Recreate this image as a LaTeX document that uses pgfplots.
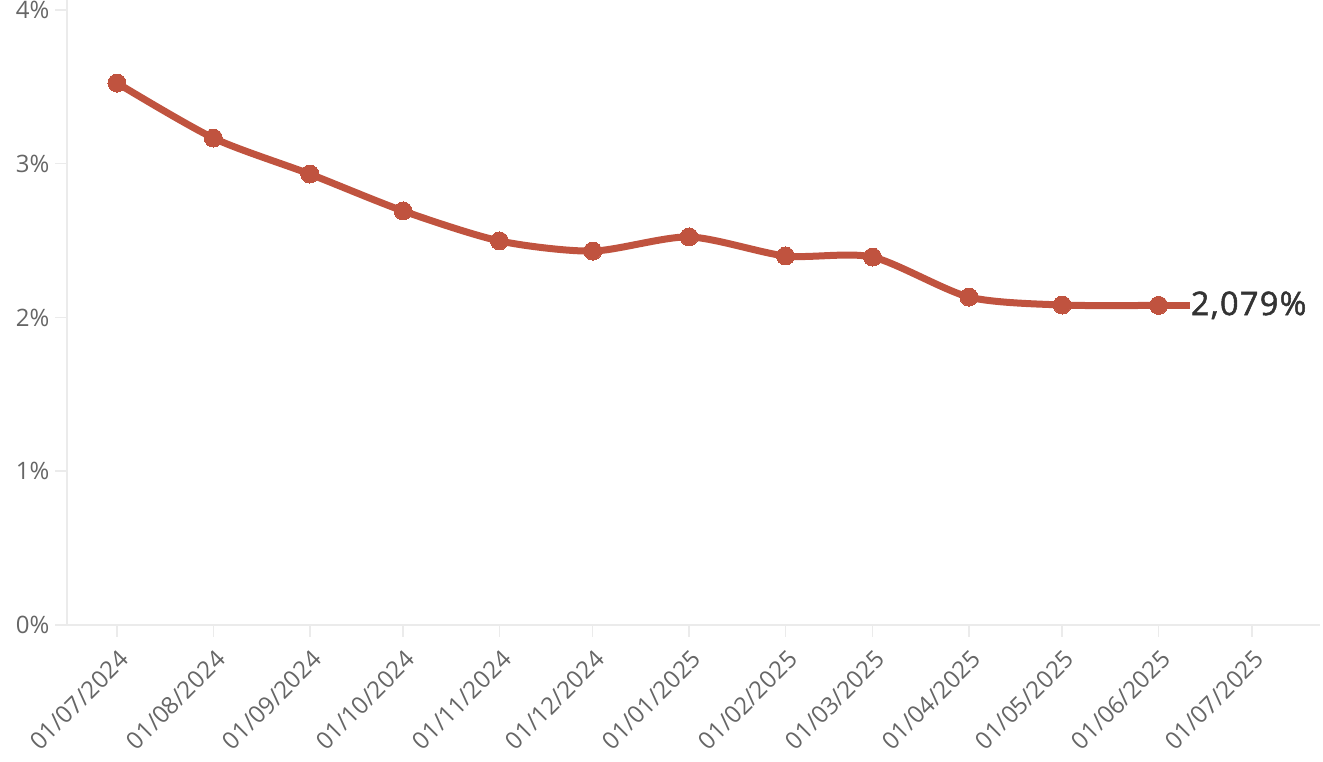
\documentclass[border=0pt]{standalone}
\usepackage{pgfplots}
\pgfplotsset{compat=1.18}
\usepackage{fontspec}
\setmainfont{Open Sans}
\newfontfamily\labfont[FakeBold=1.5, LetterSpace=4]{Open Sans}
\definecolor{linec}{HTML}{C0533F}
\definecolor{axc}{HTML}{EBEBEB}
\definecolor{tickc}{HTML}{666666}
\definecolor{labc}{HTML}{333333}
\begin{document}
\begin{tikzpicture}
\useasboundingbox (-67pt,-137pt) rectangle (1256pt,625pt);
\begin{axis}[
  at={(0pt,0pt)}, anchor=south west,
  scale only axis, width=1253pt, height=625pt,
  xmin=-16.08, xmax=386.9, ymin=0, ymax=4.065,
  axis x line*=bottom, axis y line*=left,
  axis line style={axc, line width=1.5pt, -},
  tick style={axc, line width=1.5pt},
  major tick length=12pt, tick align=outside,
  xtick={0,31,62,92,123,153,184,215,243,274,304,335,365},
  xticklabels={01/07/2024,01/08/2024,01/09/2024,01/10/2024,01/11/2024,01/12/2024,01/01/2025,01/02/2025,01/03/2025,01/04/2025,01/05/2025,01/06/2025,01/07/2025},
  ytick={0,1,2,3,4},
  yticklabel={\pgfmathprintnumber{\tick}\%},
  /pgf/number format/assume math mode=true,
  ticklabel style={font=\fontsize{24}{28}\selectfont, text=tickc},
  yticklabel style={anchor=east, xshift=-2pt},
  xticklabel style={xshift=1pt, yshift=-7pt, rotate=45, anchor=north east},
  clip=false,
]
\addplot[linec, line width=7pt, line join=round, smooth, tension=0.45,
  mark=*, mark size=9pt, mark options={fill=linec, draw=linec, line width=0pt}]
  coordinates {
  (0,3.525) (31,3.167) (62,2.933) (92,2.693) (123,2.498) (153,2.432)
  (184,2.524) (215,2.400) (243,2.393) (274,2.133) (304,2.081) (335,2.079)
  };
\addplot[linec, line width=7pt, no marks] coordinates {(335,2.079) (345,2.079)};
\node[anchor=west, text=labc, font=\labfont\fontsize{32.5}{38}\selectfont, inner sep=1pt] at (axis cs:345,2.079) {2,079\%};
\end{axis}
\end{tikzpicture}
\end{document}
